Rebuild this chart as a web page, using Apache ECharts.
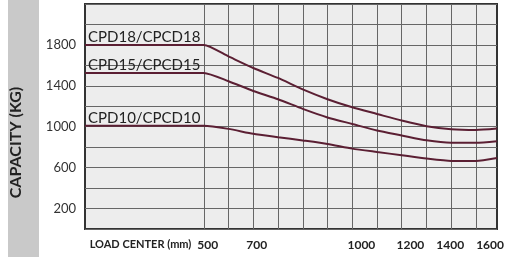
<!DOCTYPE html>
<html>
<head>
<meta charset="utf-8">
<title>Capacity vs load center</title>
<script src="https://cdn.jsdelivr.net/npm/echarts@6/dist/echarts.min.js"></script>
<style>
  html, body { margin: 0; padding: 0; background: #fff; }
  #chart { width: 515px; height: 257px; }
</style>
</head>
<body>
<div id="chart"></div>
<script>
  // load center (mm), grid lines every 100 mm from 500 to 1600
  const loadCenter = [20, 500, 600, 700, 800, 900, 1000, 1100, 1200, 1300, 1400, 1500, 1600, 1685];
  const cpd18 = [1800, 1800, 1687, 1574, 1477, 1365, 1269, 1190, 1125, 1060, 1005, 975, 968, 982];
  const cpd15 = [1526, 1526, 1445, 1349, 1269, 1175, 1091, 1027, 963, 915, 867, 844, 844, 859];
  const cpd10 = [1010, 1010, 979, 931, 898, 866, 832, 786, 753, 721, 689, 666, 666, 695];
  const seriesNames = ["CPD18/CPCD18", "CPD15/CPCD15", "CPD10/CPCD10"];

  const xGridValues = [500, 600, 700, 800, 900, 1000, 1100, 1200, 1300, 1400, 1500, 1600];
  // tick labels and where they sit along the axis in the original drawing
  const xTickLabels = ["500", "700", "1000", "1200", "1400", "1600"];
  const xTickPlaces = [516, 714, 1137, 1335, 1496, 1657];
  const yTickLabels = [200, 600, 1000, 1400, 1800];

  const FONT = "Lato, 'Open Sans', sans-serif";
  const LINE = "#5b1f33";

  function makeSeries(name, values) {
    return {
      name: name,
      type: "line",
      smooth: 0.2,
      symbolSize: 0,
      showSymbol: true,
      lineStyle: { color: LINE, width: 2 },
      itemStyle: { color: LINE },
      label: { show: false },
      data: loadCenter.map((x, i) => {
        if (i === 0) {
          return {
            value: [x, values[i]],
            label: {
              show: true,
              formatter: name,
              position: "top",
              align: "left",
              distance: 0,
              offset: [3, 0],
              color: "#222",
              fontSize: 15,
              fontFamily: FONT
            }
          };
        }
        return [x, values[i]];
      })
    };
  }

  const chart = echarts.init(document.getElementById("chart"));
  chart.setOption({
    animation: false,
    graphic: [{
      type: "rect",
      left: 8,
      top: 0,
      z: -10,
      shape: { width: 31, height: 257 },
      style: { fill: "#c9c9c9" }
    }],
    grid: {
      left: 84, right: 18, top: 4, bottom: 28,
      show: true,
      backgroundColor: "#ededed",
      borderColor: "#333",
      borderWidth: 2
    },
    xAxis: {
      type: "value",
      min: 20,
      max: 1685,
      name: "LOAD CENTER (mm)",
      nameLocation: "start",
      nameGap: -109,
      nameTextStyle: {
        color: "#222", fontSize: 11, fontWeight: "bold", fontFamily: FONT,
        verticalAlign: "top", padding: [10, 0, 0, 0]
      },
      axisLine: { show: false },
      axisTick: { show: false, customValues: xGridValues },
      axisLabel: {
        customValues: xTickPlaces,
        formatter: (v) => {
          const i = xTickPlaces.indexOf(v);
          return i >= 0 ? xTickLabels[i] : "";
        },
        margin: 10,
        color: "#222",
        fontSize: 12,
        fontWeight: "bold",
        fontFamily: FONT
      },
      splitLine: { show: true, lineStyle: { color: "#666", width: 1 } }
    },
    yAxis: {
      type: "value",
      min: 0,
      max: 2200,
      interval: 200,
      name: "CAPACITY (KG)",
      nameLocation: "middle",
      nameGap: 61,
      nameTextStyle: {
        color: "#222", fontSize: 16, fontWeight: "bold", fontFamily: FONT,
        padding: [0, 52, 0, 0]
      },
      axisLine: { show: false },
      axisTick: { show: false },
      axisLabel: {
        customValues: yTickLabels,
        formatter: (v) => String(v),
        margin: 9,
        color: "#333",
        fontSize: 13,
        fontFamily: FONT
      },
      splitLine: { show: true, lineStyle: { color: "#666", width: 1 } }
    },
    series: [
      makeSeries(seriesNames[0], cpd18),
      makeSeries(seriesNames[1], cpd15),
      makeSeries(seriesNames[2], cpd10)
    ]
  });
</script>
</body>
</html>
